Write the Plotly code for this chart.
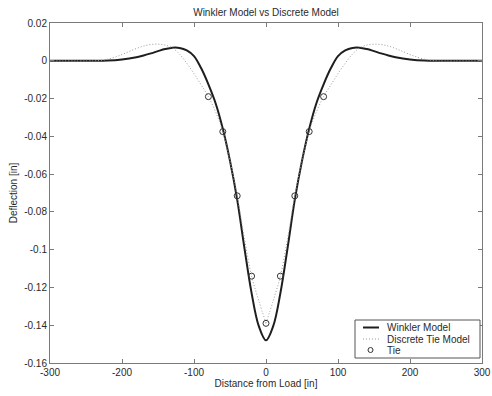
import plotly.graph_objects as go

# Winkler model (solid line)
winkler_x = [-300, -260, -240, -220, -200, -180, -170, -160, -150, -140, -130, -120, -110, -100,
             -90, -80, -70, -60, -50, -40, -30, -20, -10, 0,
             10, 20, 30, 40, 50, 60, 70, 80, 90, 100, 110, 120, 130, 140, 150, 160, 170, 180,
             200, 220, 240, 260, 300]
winkler_y = [0.0, 0.0, 0.0, 0.0001, 0.0007, 0.0019, 0.0028, 0.0039, 0.0051, 0.0062, 0.0069, 0.0068, 0.0055, 0.0025,
             -0.004, -0.0125, -0.0225, -0.036, -0.053, -0.0735, -0.099, -0.123, -0.1405, -0.148,
             -0.1405, -0.123, -0.099, -0.0735, -0.053, -0.036, -0.0225, -0.0125, -0.004, 0.0025, 0.0055, 0.0068, 0.0069,
             0.0062, 0.0051, 0.0039, 0.0028, 0.0019,
             0.0007, 0.0001, 0.0, 0.0, 0.0]

# Discrete tie model (dotted line), left and right halves (cusp at load point)
discrete_left_x = [-300, -240, -230, -220, -210, -200, -190, -180, -170, -160, -150, -140, -130, -120,
                   -110, -100, -90, -80, -70, -60, -50, -40, -30, -20, -10, 0]
discrete_left_y = [0.0, 0.0, 0.0002, 0.0008, 0.0019, 0.0033, 0.0049, 0.0065, 0.0078, 0.0086, 0.0088, 0.0083, 0.0068, 0.0035,
                   -0.0013, -0.0068, -0.0128, -0.019, -0.027, -0.0375, -0.053, -0.0715, -0.094, -0.114, -0.127, -0.139]
discrete_right_x = [0, 10, 20, 30, 40, 50, 60, 70, 80, 90, 100, 110, 120, 130, 140, 150, 160, 170, 180,
                    190, 200, 210, 220, 230, 240, 300]
discrete_right_y = [-0.139, -0.127, -0.114, -0.094, -0.0715, -0.053, -0.0375, -0.027, -0.019, -0.0128, -0.0068,
                    -0.0013, 0.0035, 0.0068, 0.0083, 0.0088, 0.0086, 0.0078, 0.0065, 0.0049, 0.0033, 0.0019,
                    0.0008, 0.0002, 0.0, 0.0]

# Ties (markers)
tie_x = [-80, -60, -40, -20, 0, 20, 40, 60, 80]
tie_y = [-0.019, -0.0375, -0.0715, -0.114, -0.139, -0.114, -0.0715, -0.0375, -0.019]

x_ticks = [-300, -200, -100, 0, 100, 200, 300]
x_ticktext = ["-300", "-200", "-100", "0", "100", "200", "300"]
y_ticks = [0.02, 0.0, -0.02, -0.04, -0.06, -0.08, -0.1, -0.12, -0.14, -0.16]
y_ticktext = ["0.02", "0", "-0.02", "-0.04", "-0.06", "-0.08", "-0.1", "-0.12", "-0.14", "-0.16"]

legend_labels = ["Winkler Model", "Discrete Tie Model", "Tie"]

FONT = "Arial, Liberation Sans, sans-serif"
AXC = "#7a7a7a"
TXT = "#2a2a2a"
SOLID = "#1e1e1e"
DOTC = "#9a9a9a"
DOTDASH = "1px,2px"

# plot area in pixels
L, R, T, B = 50, 482, 23, 363
W, H = 492, 396


def px_x(p):
    return (p - L) / (R - L)


def px_y(p):
    return (B - p) / (B - T)


fig = go.Figure()
fig.add_trace(go.Scatter(x=winkler_x, y=winkler_y, mode="lines", name=legend_labels[0],
                         line=dict(color=SOLID, width=2, shape="spline")))
fig.add_trace(go.Scatter(x=discrete_left_x, y=discrete_left_y, mode="lines", name=legend_labels[1],
                         legendgroup="d",
                         line=dict(color=DOTC, width=1, dash=DOTDASH, shape="spline")))
fig.add_trace(go.Scatter(x=discrete_right_x, y=discrete_right_y, mode="lines", name=legend_labels[1],
                         legendgroup="d", showlegend=False,
                         line=dict(color=DOTC, width=1, dash=DOTDASH, shape="spline")))
fig.add_trace(go.Scatter(x=tie_x, y=tie_y, mode="markers", name=legend_labels[2],
                         marker=dict(symbol="circle-open", size=6, color="#333333", line=dict(width=1))))

# compact MATLAB-style legend box
shapes = [
    dict(type="rect", xref="paper", yref="paper", x0=px_x(355), x1=px_x(480), y0=px_y(358), y1=px_y(320),
         line=dict(color="#555555", width=1), fillcolor="white", layer="above"),
    dict(type="line", xref="paper", yref="paper", x0=px_x(363), x1=px_x(379), y0=px_y(327.5), y1=px_y(327.5),
         line=dict(color=SOLID, width=2), layer="above"),
    dict(type="line", xref="paper", yref="paper", x0=px_x(363), x1=px_x(379), y0=px_y(339), y1=px_y(339),
         line=dict(color=DOTC, width=1, dash=DOTDASH), layer="above"),
    dict(type="circle", xref="paper", yref="paper", x0=px_x(368), x1=px_x(373), y0=px_y(352.5), y1=px_y(347.5),
         line=dict(color="#333333", width=1), layer="above"),
]
annotations = [
    dict(text=lab, xref="paper", yref="paper", x=px_x(385), y=px_y(py), xanchor="left", yanchor="middle",
         showarrow=False, font=dict(size=10, family=FONT, color=TXT))
    for lab, py in zip(legend_labels, [327.5, 339, 350.5])
]

fig.update_layout(
    width=W, height=H,
    margin=dict(l=L, r=W - R, t=T, b=H - B),
    paper_bgcolor="white", plot_bgcolor="white",
    font=dict(family=FONT, size=10, color=TXT),
    title=dict(text="Winkler Model vs Discrete Model", x=266 / W, xanchor="center",
               y=1 - 12 / H, yanchor="middle", font=dict(size=10, family=FONT, color=TXT)),
    showlegend=False,
    shapes=shapes,
    annotations=annotations,
)
fig.update_xaxes(range=[-300, 300], tickvals=x_ticks, ticktext=x_ticktext, ticks="inside", ticklen=4,
                 tickcolor=AXC, showline=True, linecolor=AXC, linewidth=1, mirror="ticks",
                 showgrid=False, zeroline=False, automargin=False,
                 title=dict(text="Distance from Load [in]", standoff=2, font=dict(size=10)))
fig.update_yaxes(range=[-0.16, 0.02], tickvals=y_ticks, ticktext=y_ticktext, ticks="inside", ticklen=4,
                 tickcolor=AXC, showline=True, linecolor=AXC, linewidth=1, mirror="ticks",
                 showgrid=False, zeroline=False, automargin=False,
                 title=dict(text="Deflection [in]", standoff=4, font=dict(size=10)))

fig.write_html("out.html")
